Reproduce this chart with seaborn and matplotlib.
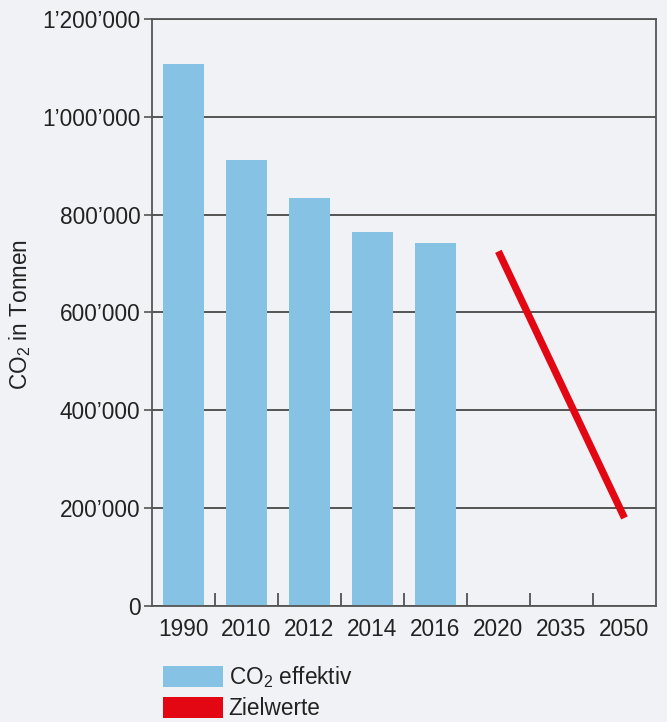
import numpy as np
import pandas as pd
import matplotlib
matplotlib.use("Agg")
import matplotlib.pyplot as plt
import seaborn as sns
from matplotlib.patches import Patch
from matplotlib.ticker import FuncFormatter, FixedLocator

# data
all_years = ["1990", "2010", "2012", "2014", "2016", "2020", "2035", "2050"]
bar_years = ["1990", "2010", "2012", "2014", "2016"]
co2_effektiv = [1108000, 912000, 834000, 764000, 742000]
ziel_years = ["2020", "2050"]
zielwerte = [725000, 180000]

bg = "#f1f2f6"
blue = "#85c2e3"
red = "#e30613"
fs = 16.3

sns.set_theme(style="white")
plt.rcParams["font.family"] = ["Liberation Sans", "DejaVu Sans"]
plt.rcParams["mathtext.fontset"] = "custom"
plt.rcParams["mathtext.rm"] = "Liberation Sans"
plt.rcParams["mathtext.default"] = "regular"

fig = plt.figure(figsize=(6.67, 7.22), dpi=100, facecolor=bg)
ax = fig.add_axes([0.2274, 0.1607, 0.7561, 0.8130])
ax.set_facecolor(bg)

df = pd.DataFrame({"Jahr": bar_years, "CO2": co2_effektiv})
sns.barplot(data=df, x="Jahr", y="CO2", order=all_years, color=blue,
            width=0.65, saturation=1, linewidth=0, ax=ax, zorder=2)

# target line, drawn on the category positions
xpos = [all_years.index(y) for y in ziel_years]
sns.lineplot(x=xpos, y=zielwerte, color=red, linewidth=5.2, ax=ax,
             zorder=3, solid_capstyle="butt")

ax.set_xlim(-0.5, 7.5)
ax.set_ylim(0, 1200000)
ax.set_yticks(np.arange(0, 1200001, 200000))
ax.yaxis.set_major_formatter(FuncFormatter(lambda v, p: f"{int(v):,}".replace(",", "\u2019")))
ax.set_xticks(range(len(all_years)))
ax.set_xticklabels(all_years)
ax.xaxis.set_minor_locator(FixedLocator(np.arange(0.5, 7, 1)))

ax.tick_params(axis="x", which="major", length=0, labelsize=fs, pad=9, colors="#222222")
ax.tick_params(axis="x", which="minor", direction="in", length=9.5, width=1.2,
               color="#444444", bottom=True)
ax.tick_params(axis="y", which="major", length=6, width=1.2, color="#555555",
               labelsize=fs, pad=2, left=True, labelcolor="#222222")

ax.grid(axis="y", color="#2a2a2a", linewidth=1.1, zorder=1)
ax.set_axisbelow(True)
for s in ax.spines.values():
    s.set_visible(True)
    s.set_color("#555555")
    s.set_linewidth(1.3)

ax.set_xlabel("")
ax.set_ylabel("CO$_2$ in Tonnen", fontsize=fs, color="#222222", va="center")
ax.yaxis.set_label_coords(-0.261, 0.496)

handles = [Patch(facecolor=blue, edgecolor="none", label="CO$_2$ effektiv"),
           Patch(facecolor=red, edgecolor="none", label="Zielwerte")]
fig.legend(handles=handles, loc="upper left", bbox_to_anchor=(163 / 667, 1 - 664 / 722),
           frameon=False, fontsize=fs, handlelength=2.65, handleheight=1.05,
           handletextpad=0.25, labelspacing=0.3, borderpad=0, borderaxespad=0,
           labelcolor="#222222")

fig.savefig("out.png", dpi=100, facecolor=bg)
